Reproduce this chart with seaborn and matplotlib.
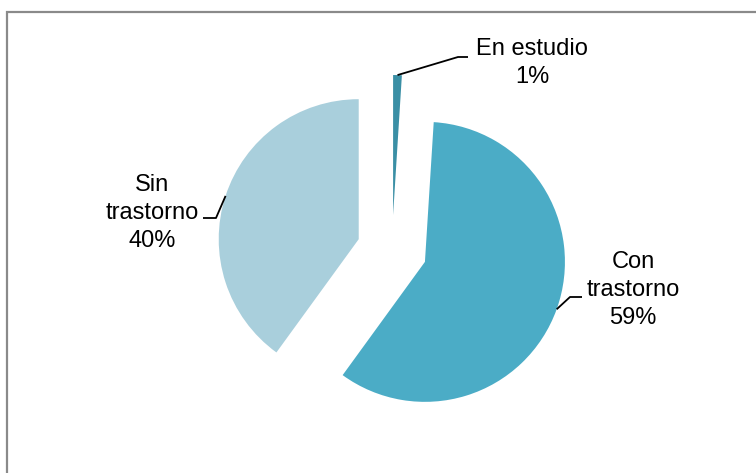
import numpy as np
import matplotlib
matplotlib.use("Agg")
import matplotlib.pyplot as plt
import seaborn as sns
from matplotlib.patches import Rectangle

# data
categories = ["En estudio", "Con trastorno", "Sin trastorno"]
shares = [1, 59, 40]
colors = ["#3a8fa5", "#4bacc6", "#a9cfdc"]

sns.set_theme(style="white")
plt.rcParams['font.family'] = ['Liberation Sans', 'DejaVu Sans']

W, H = 756, 473
fig = plt.figure(figsize=(W / 100, H / 100), dpi=100)
ax = fig.add_axes([0, 0, 1, 1])

cx, cy, r = 392, H - 250, 140
# explode offset is in data units when radius != 1
wedges, _ = ax.pie(
    shares,
    colors=colors,
    startangle=90,
    counterclock=False,
    explode=[0.25 * r] * len(shares),
    radius=r,
    center=(cx, cy),
    frame=False,
    wedgeprops=dict(linewidth=0),
)
ax.set_xlim(0, W)
ax.set_ylim(0, H)
ax.set_aspect('equal')
ax.axis('off')

# label layout (pixel coords from top-left): text centre, elbow, line end
layout = [
    ((532, 63), (458, 57), (468, 57)),
    ((633, 290), (570, 297), (582, 297)),
    ((152, 213), (216, 218), (203, 218)),
]

for w, cat, val, (txt, elbow, end) in zip(wedges, categories, shares, layout):
    mid = np.deg2rad((w.theta1 + w.theta2) / 2)
    ax_x = w.center[0] + w.r * np.cos(mid)
    ax_y = w.center[1] + w.r * np.sin(mid)
    ax.plot([ax_x, elbow[0], end[0]], [ax_y, H - elbow[1], H - end[1]],
            color='black', lw=1.3, solid_capstyle='butt')
    label = cat if cat == 'En estudio' else cat.replace(' ', '\n')
    ax.text(txt[0], H - txt[1], f"{label}\n{val}%",
            ha='center', va='center', fontsize=17, color='black', linespacing=1.38)

# outer chart frame (runs off the right and bottom edges)
fig.patches.append(Rectangle((7, -20), W, H - 12 + 20, transform=None, fill=False,
                             edgecolor='#8a8a8a', lw=1.6))

fig.savefig("out.png", dpi=100)
